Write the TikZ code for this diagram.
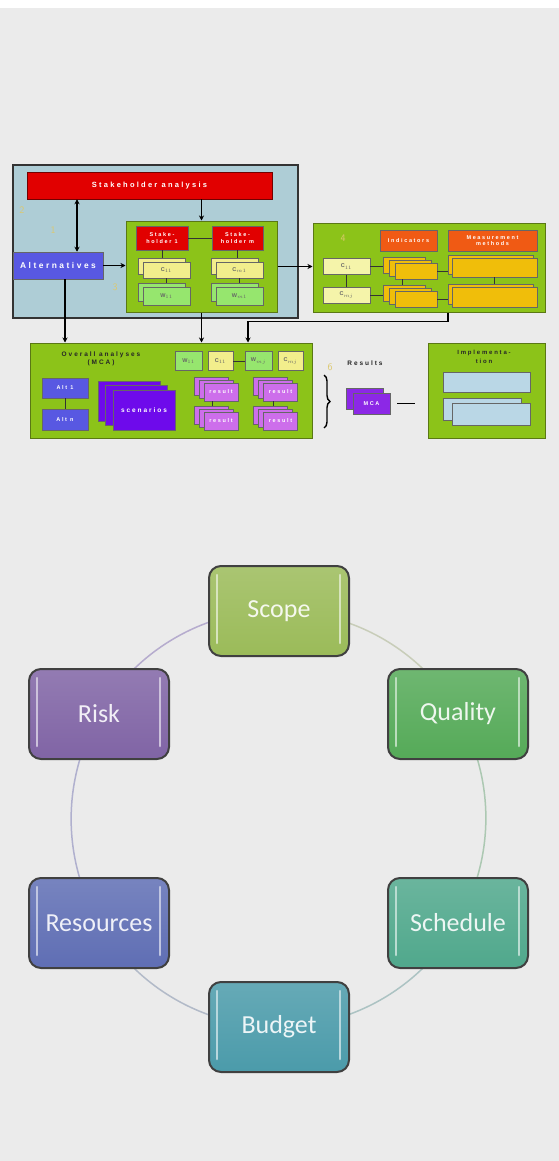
\documentclass[tikz,border=0pt]{standalone}
\usepackage{fontspec}
\usetikzlibrary{arrows.meta,decorations.pathreplacing}
\newfontfamily\carlito{Carlito}
\newfontfamily\lblfont[LetterSpace=30]{Liberation Sans}

\definecolor{bgcol}{RGB}{235,235,235}
\definecolor{framecol}{RGB}{174,205,214}
\definecolor{stakered}{RGB}{225,0,0}
\definecolor{altblue}{RGB}{88,88,226}
\definecolor{panelgreen}{RGB}{140,195,25}
\definecolor{paneledge}{RGB}{90,120,20}
\definecolor{cyellow}{RGB}{242,238,140}
\definecolor{wgreen}{RGB}{150,230,110}
\definecolor{indorange}{RGB}{240,90,20}
\definecolor{cpale}{RGB}{245,244,170}
\definecolor{gold}{RGB}{240,190,10}
\definecolor{scenviolet}{RGB}{110,10,235}
\definecolor{resmag}{RGB}{205,110,235}
\definecolor{respurple}{RGB}{140,40,230}
\definecolor{implblue}{RGB}{186,215,230}
\definecolor{numcol}{RGB}{220,200,110}
\definecolor{scopecol}{RGB}{155,187,89}
\definecolor{qualcol}{RGB}{85,170,88}
\definecolor{schedcol}{RGB}{80,168,140}
\definecolor{budgetcol}{RGB}{75,155,170}
\definecolor{rescol}{RGB}{95,110,180}
\definecolor{riskcol}{RGB}{128,100,165}

\newcommand\boxfont{\lblfont\bfseries\fontsize{5.5}{6.5}\selectfont}
\newcommand\titlefont{\lblfont\bfseries\fontsize{6.5}{8}\selectfont}

\pgfdeclarelayer{bg}
\pgfdeclarelayer{ringlayer}
\pgfsetlayers{bg,ringlayer,main}

\tikzset{sz/.style 2 args={minimum width=#1pt,minimum height=#2pt}}
\tikzstyle{box}=[draw=black!60,line width=0.5pt,inner sep=0pt,align=center,text=white,font=\boxfont]
\tikzstyle{panel}=[draw=paneledge,line width=1pt,fill=panelgreen,inner sep=0pt]
\tikzstyle{conn}=[line width=1.6pt,black]
\tikzstyle{wire}=[line width=0.8pt,black!80]
\tikzstyle{stepno}=[text=numcol,font=\sffamily\fontsize{10}{10}\selectfont]
\tikzstyle{pmbox}=[rounded corners=12pt,draw=black!75,line width=2pt,minimum width=140pt,minimum height=90pt,font=\carlito\fontsize{26}{30}\selectfont]
\tikzstyle{ring}=[line width=1.5pt]
\tikzstyle{hl}=[line width=2.5pt,line cap=round]

\begin{document}
\begin{tikzpicture}[x=1pt,y=-1pt,>={Stealth[length=5pt,width=5pt]}]
  \begin{pgfonlayer}{bg}
  \fill[white] (0,0) rectangle (559,1161);
  \fill[bgcol] (0,8) rectangle (559,1161);
  \end{pgfonlayer}
  \useasboundingbox (0,0) rectangle (559,1161);

  % steps 1 to 3
  \node[draw=black!80,line width=1.2pt,fill=framecol,sz={285}{153}] (frame) at (155.5,241.5) {};
  \node[box,fill=stakered,draw=red!45!black,sz={245}{27},font=\lblfont\bfseries\fontsize{7.5}{8}\selectfont] (stake) at (149.5,185.5) {Stakeholder analysis};
  \node[box,fill=altblue,sz={90}{27},font=\lblfont\bfseries\fontsize{8.4}{9}\selectfont] (alt) at (58,265.5) {Alternatives};
  \node[panel,sz={151}{91}] (crit) at (201.5,266.5) {};
  \node[box,fill=stakered,sz={52}{24}] (sh1) at (162,238) {Stake-\\holder 1};
  \node[box,fill=stakered,sz={51}{24}] (sh2) at (237.5,238) {Stake-\\holder m};
  \node[box,fill=cyellow,sz={47}{16}] (c1b) at (161.5,266) {};
  \node[box,fill=cyellow,sz={47}{16},text=black!60] (c1) at (166.5,270) {C$_{11}$};
  \node[box,fill=cyellow,sz={47}{16}] (c2b) at (234.5,266) {};
  \node[box,fill=cyellow,sz={47}{16},text=black!60] (c2) at (239.5,270) {C$_{m1}$};
  \node[box,fill=wgreen,sz={47}{18}] (w1b) at (161.5,292) {};
  \node[box,fill=wgreen,sz={47}{18},text=black!60] (w1) at (166.5,296) {W$_{11}$};
  \node[box,fill=wgreen,sz={47}{18}] (w2b) at (234.5,292) {};
  \node[box,fill=wgreen,sz={47}{18},text=black!60] (w2) at (239.5,296) {W$_{m1}$};
  \draw[wire] (sh1) -- (sh2);
  \draw[wire] (sh1.south) -- (sh1.south |- c1b.north);
  \draw[wire] (sh2.south) -- (sh2.south |- c2b.north);
  \draw[wire] (c1.south) -- (c1.south |- w1b.north);
  \draw[wire] (c2.south) -- (c2.south |- w2b.north);
  \node[stepno] (n2) at (22,210) {2};
  \node[stepno] (n1) at (53,230) {1};
  \node[stepno] (n3) at (115,287) {3};

  % step 4
  \node[panel,sz={232}{89}] (perf) at (429,267.5) {};
  \node[stepno] (n4) at (343,238) {4};
  \node[box,fill=indorange,sz={57}{21}] (ind) at (408.5,240.5) {Indicators};
  \node[box,fill=indorange,sz={89}{21}] (meth) at (492.5,240.5) {Measurement\\methods};
  \node[box,fill=cpale,sz={47}{16},text=black!60] (pc1) at (346.5,266.5) {C$_{11}$};
  \node[box,fill=cpale,sz={47}{16},text=black!60] (pc2) at (346.5,295) {C$_{mj}$};
  \node[box,fill=gold,sz={42}{16}] (ga3) at (404,265) {};
  \node[box,fill=gold,sz={42}{16}] (ga2) at (410,268) {};
  \node[box,fill=gold,sz={42}{16}] (ga1) at (416,271) {};
  \node[box,fill=gold,sz={42}{16}] (gc3) at (404,293.5) {};
  \node[box,fill=gold,sz={42}{16}] (gc2) at (410,296.5) {};
  \node[box,fill=gold,sz={42}{16}] (gc1) at (416,299.5) {};
  \node[box,fill=gold,sz={85}{19}] (gb2) at (490.5,264.5) {};
  \node[box,fill=gold,sz={85}{19}] (gb1) at (494.5,267.5) {};
  \node[box,fill=gold,sz={85}{20}] (gd2) at (490.5,294) {};
  \node[box,fill=gold,sz={85}{20}] (gd1) at (494.5,297) {};
  \draw[wire] (pc1) -- (pc2);
  \draw[wire] (pc1.east) -- (pc1.east -| ga3.west);
  \draw[wire] (pc2.east) -- (pc2.east -| gc3.west);
  \draw[wire] (ga1.east) -- (ga1.east -| gb2.west);
  \draw[wire] (gc1.east) -- (gc1.east -| gd2.west);
  \draw[wire] ([xshift=-14pt]ga1.south) -- ([xshift=-14pt]ga1.south |- gc3.north);
  \draw[wire] (gb1.south) -- (gb1.south |- gd2.north);

  % step 5
  \node[panel,sz={282}{95}] (mca) at (171,390.5) {};
  \node[font=\titlefont,text=black!85,align=center] (mcatitle) at (101,359) {Overall analyses\\(MCA)};
  \node[box,fill=altblue,sz={46}{20}] (alt1) at (65,388) {Alt 1};
  \node[box,fill=altblue,sz={46}{21}] (altn) at (65,419.5) {Alt n};
  \draw[wire] (alt1) -- (altn);
  \node[box,fill=scenviolet,sz={62}{40}] (scen3) at (129,401) {};
  \node[box,fill=scenviolet,sz={62}{40}] (scen2) at (136.5,405.5) {};
  \node[box,fill=scenviolet,sz={62}{40},font=\lblfont\bfseries\fontsize{6.5}{7}\selectfont] (scen) at (144,410) {scenarios};
  \node[box,fill=wgreen,sz={27}{19},text=black!60] (wa) at (188.5,361) {W$_{11}$};
  \node[box,fill=cyellow,sz={25}{19},text=black!60] (ca) at (220.5,361) {C$_{11}$};
  \node[box,fill=wgreen,sz={27}{19},text=black!60] (wb) at (258.5,361) {W$_{mj}$};
  \node[box,fill=cyellow,sz={25}{19},text=black!60] (cb) at (290.5,361) {C$_{mj}$};
  \draw[wire] (ca) -- (wb);
  \foreach \nm/\px/\py in {ra/221/392, rb/221/421, rc/280.5/392, rd/280.5/421} {
    \node[box,fill=resmag,sz={34}{18}] (\nm3) at (\px-10,\py-6) {};
    \node[box,fill=resmag,sz={34}{18}] (\nm2) at (\px-5,\py-3) {};
    \node[box,fill=resmag,sz={34}{18}] (\nm) at (\px,\py) {result};
  }
  \draw[wire] ([xshift=-9pt]ra.south) -- ([xshift=-9pt]ra.south |- rb3.north);
  \draw[wire] ([xshift=-7.5pt]rc.south) -- ([xshift=-7.5pt]rc.south |- rd3.north);

  % arrows between the steps
  \draw[conn,<->] ([xshift=19pt]alt.north) -- ([xshift=19pt]alt.north |- stake.south);
  \draw[conn,->] (crit.north |- stake.south) -- (crit.north);
  \draw[conn,->] (alt.east) -- (alt.east -| crit.west);
  \draw[conn,->] (crit.east) -- (crit.east -| perf.west);
  \draw[conn,->] ([xshift=7pt]alt.south) -- ([xshift=7pt]alt.south |- mca.north);
  \draw[conn,->] (crit.south) -- (crit.south |- mca.north);
  \draw[conn,->] ([xshift=19pt]perf.south) -- ++(0,9) -| ([xshift=77pt]mca.north);

  % steps 6 and 7
  \node[stepno] (n6) at (330,367) {6};
  \node[font=\titlefont,text=black!85] (restitle) at (365,363) {Results};
  \draw[line width=1.4pt,decorate,decoration={brace,amplitude=6pt}] (324,375) -- (324,428);
  \node[box,fill=respurple,sz={37}{21}] (resb) at (364.5,398.5) {};
  \node[box,fill=respurple,sz={37}{21}] (res) at (371.5,403.5) {MCA};
  \node[panel,sz={117}{95}] (impl) at (486.5,390.5) {};
  \node[font=\lblfont\bfseries\fontsize{6}{9}\selectfont,text=black!85,align=center] (impltitle) at (484,357) {Implementa-\\tion};
  \node[box,fill=implblue,sz={87}{20}] (ib1) at (486.5,382) {};
  \node[box,fill=implblue,sz={78}{22}] (ib2b) at (482,409) {};
  \node[box,fill=implblue,sz={78}{22}] (ib2) at (491,414) {};
  \draw[conn,shorten <=7pt,shorten >=13pt] (res.east) -- (res.east -| impl.west);

  % project constraints ring
  \foreach \nm/\col/\txt/\px/\py in {scope/scopecol/Scope/279/611, quality/qualcol/Quality/458/714,
      schedule/schedcol/Schedule/458/923, budget/budgetcol/Budget/279/1027,
      resources/rescol/Resources/99/923, risk/riskcol/Risk/99/714} {
    \node[pmbox,top color=\col!85!white,bottom color=\col,text=\col!10!white] (\nm) at (\px,\py) {\txt};
    \draw[hl,\col!40!white] ([xshift=9pt,yshift=-10pt]\nm.north west) -- ([xshift=9pt,yshift=14pt]\nm.south west);
    \draw[hl,\col!40!white] ([xshift=-10pt,yshift=-10pt]\nm.north east) -- ([xshift=-10pt,yshift=14pt]\nm.south east);
  }
  \begin{pgfonlayer}{ringlayer}
  \draw[ring,color={rgb,255:red,200;green,205;blue,185}] (scope.center) arc[start angle=-90,end angle=-30,radius=208];
  \draw[ring,color={rgb,255:red,172;green,200;blue,178}] (quality.center) arc[start angle=-30,end angle=30,radius=208];
  \draw[ring,color={rgb,255:red,172;green,195;blue,195}] (schedule.center) arc[start angle=30,end angle=90,radius=208];
  \draw[ring,color={rgb,255:red,178;green,186;blue,200}] (budget.center) arc[start angle=90,end angle=150,radius=208];
  \draw[ring,color={rgb,255:red,176;green,176;blue,206}] (resources.center) arc[start angle=150,end angle=210,radius=208];
  \draw[ring,color={rgb,255:red,182;green,172;blue,206}] (risk.center) arc[start angle=210,end angle=270,radius=208];
  \end{pgfonlayer}
\end{tikzpicture}
\end{document}
